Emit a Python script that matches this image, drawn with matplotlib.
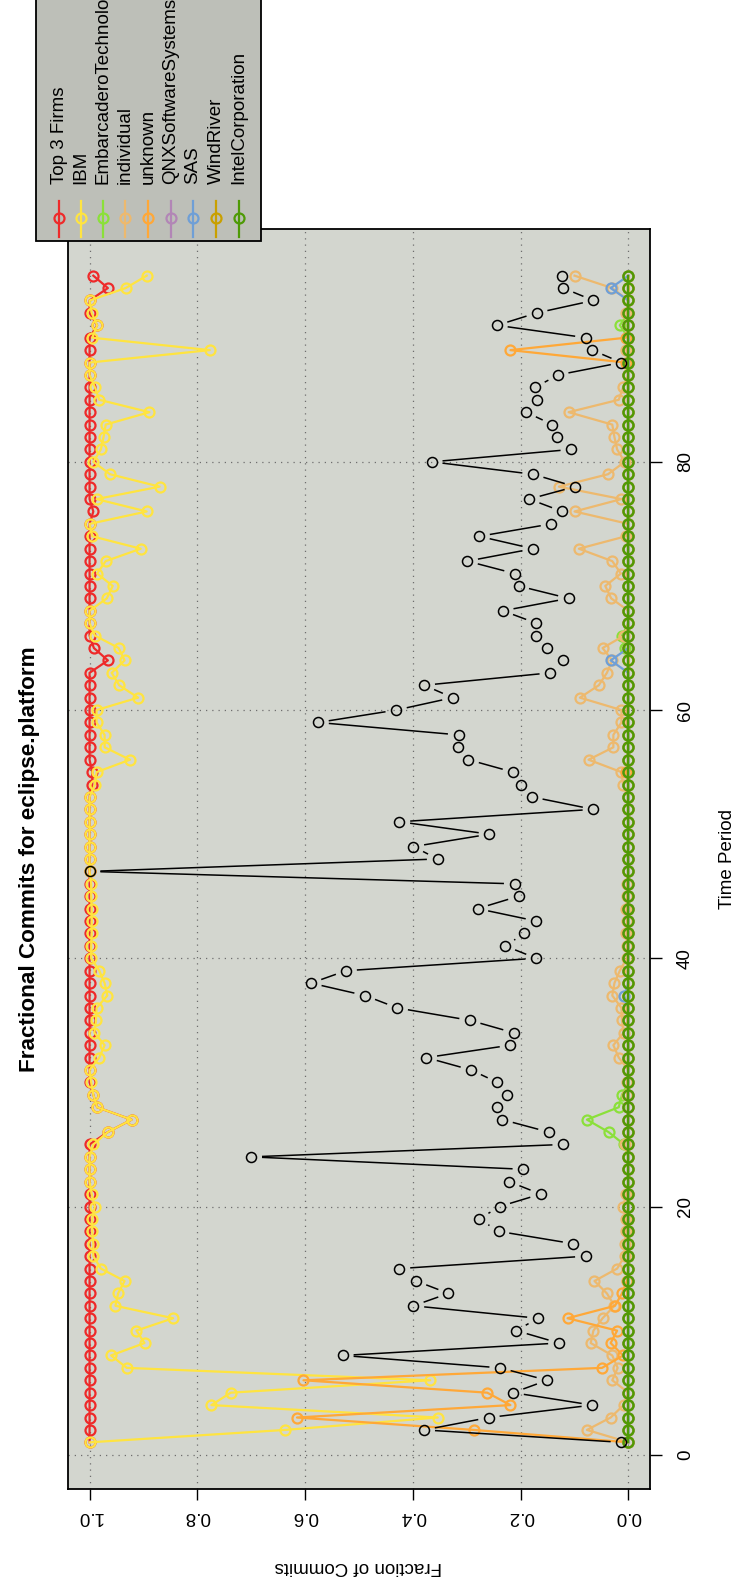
import numpy as np
import matplotlib
matplotlib.use("Agg")
import matplotlib.pyplot as plt
from matplotlib.collections import LineCollection
from matplotlib.lines import Line2D
from matplotlib.patches import Rectangle

plt.rcParams['font.family'] = ['Liberation Sans', 'DejaVu Sans']

# Time periods 1..95
periods = np.arange(1, 96)

top3 = [1.0] * 95
for t, v in {26: 0.966, 27: 0.922, 28: 0.986, 29: 0.993, 54: 0.995, 55: 0.995,
             64: 0.966, 65: 0.992, 76: 0.993, 91: 0.986, 94: 0.966, 95: 0.993}.items():
    top3[t - 1] = v

ibm = [1.0, 0.637, 0.354, 0.774, 0.738, 0.368, 0.931, 0.96, 0.898, 0.913,
       0.845, 0.952, 0.947, 0.935, 0.979, 0.993, 0.993, 0.995, 0.995, 0.99,
       0.996, 1.0, 1.0, 1.0, 0.993, 0.966, 0.922, 0.986, 0.993, 0.997,
       1.0, 0.982, 0.972, 0.991, 0.988, 0.987, 0.967, 0.972, 0.982, 0.997,
       0.997, 0.996, 0.996, 0.996, 0.997, 0.997, 1.0, 1.0, 1.0, 1.0,
       1.0, 1.0, 1.0, 0.99, 0.987, 0.925, 0.972, 0.972, 0.987, 0.987,
       0.91, 0.945, 0.959, 0.935, 0.946, 0.99, 1.0, 1.0, 0.968, 0.957,
       0.986, 0.97, 0.905, 0.995, 1.0, 0.894, 0.987, 0.87, 0.962, 0.993,
       0.979, 0.974, 0.97, 0.889, 0.982, 0.99, 1.0, 1.0, 0.777, 0.995,
       0.986, 0.996, 1.0, 0.933, 0.894]

embarcadero = [0.0] * 95
for t, v in {25: 0.008, 26: 0.037, 27: 0.077, 28: 0.018, 29: 0.012,
             65: 0.006, 66: 0.012, 91: 0.016}.items():
    embarcadero[t - 1] = v

individual = [0.0, 0.077, 0.033, 0.009, 0.0, 0.03, 0.02, 0.03, 0.07, 0.065,
              0.048, 0.026, 0.04, 0.063, 0.021, 0.007, 0.007, 0.005, 0.005, 0.01,
              0.004, 0.0, 0.0, 0.0, 0.007, 0.0, 0.0, 0.0, 0.002, 0.003,
              0.0, 0.018, 0.028, 0.009, 0.012, 0.013, 0.03, 0.026, 0.016, 0.003,
              0.003, 0.004, 0.003, 0.004, 0.003, 0.003, 0.0, 0.0, 0.0, 0.0,
              0.0, 0.0, 0.0, 0.01, 0.013, 0.074, 0.028, 0.028, 0.013, 0.013,
              0.09, 0.055, 0.04, 0.03, 0.048, 0.008, 0.0, 0.0, 0.032, 0.043,
              0.014, 0.03, 0.092, 0.005, 0.0, 0.1, 0.013, 0.129, 0.038, 0.007,
              0.021, 0.026, 0.03, 0.111, 0.018, 0.01, 0.0, 0.0, 0.004, 0.0,
              0.0, 0.004, 0.0, 0.03, 0.1]

unknown = [0.0] * 95
for t, v in {2: 0.287, 3: 0.615, 4: 0.219, 5: 0.262, 6: 0.603, 7: 0.049,
             8: 0.01, 9: 0.033, 10: 0.021, 11: 0.113, 12: 0.025, 13: 0.012,
             14: 0.003, 55: 0.005, 88: 0.005, 89: 0.219, 90: 0.005}.items():
    unknown[t - 1] = v

qnx = [0.0] * 95

sas = [0.0] * 95
for t, v in {37: 0.008, 64: 0.033, 94: 0.033}.items():
    sas[t - 1] = v

windriver = [0.0] * 95
intel = [0.0] * 95

# black series (drawn without legend entry)
other = [0.013, 0.379, 0.259, 0.067, 0.214, 0.151, 0.238, 0.530, 0.129, 0.208,
         0.168, 0.399, 0.334, 0.394, 0.425, 0.079, 0.102, 0.241, 0.277, 0.239,
         0.163, 0.221, 0.195, 0.700, 0.121, 0.148, 0.234, 0.244, 0.226, 0.243,
         0.292, 0.375, 0.219, 0.213, 0.294, 0.429, 0.489, 0.589, 0.524, 0.171,
         0.229, 0.193, 0.171, 0.280, 0.204, 0.211, 1.0, 0.354, 0.399, 0.258,
         0.425, 0.065, 0.179, 0.200, 0.214, 0.297, 0.316, 0.315, 0.576, 0.431,
         0.326, 0.379, 0.145, 0.121, 0.152, 0.172, 0.171, 0.233, 0.111, 0.204,
         0.211, 0.299, 0.177, 0.277, 0.143, 0.123, 0.184, 0.099, 0.177, 0.365,
         0.106, 0.133, 0.141, 0.19, 0.17, 0.173, 0.131, 0.013, 0.067, 0.079,
         0.244, 0.17, 0.065, 0.121, 0.123]

names = ["Top 3 Firms", "IBM", "EmbarcaderoTechnologies", "individual", "unknown",
         "QNXSoftwareSystems", "SAS", "WindRiver", "IntelCorporation"]
series = [top3, ibm, embarcadero, individual, unknown, qnx, sas, windriver, intel]
colors = ["#EE2A2A", "#FFE440", "#8BE03A", "#EDB96E", "#FFA838",
          "#B286B6", "#6F9FD6", "#C9A000", "#4E9A06"]

W, H = 737, 1580
fig = plt.figure(figsize=(W / 100, H / 100), dpi=100)

# the whole chart is drawn turned by 90 degrees
ax = fig.add_axes([68 / W, 1 - 1489 / H, (650 - 68) / W, (1489 - 229) / H])
ax.set_facecolor("#D3D6CF")
ax.set_xlim(1.04, -0.04)
ax.set_ylim(-2.76, 98.76)

for vals, col in zip(series, colors):
    ax.plot(vals, periods, '-', color=col, lw=1.6, marker='o', ms=7.2,
            mfc='none', mec=col, mew=1.6, zorder=3)

# black series with gaps at the points (R type="b")
gap = 10.8
pts = ax.transData.transform(np.column_stack([other, periods]))
inv = ax.transData.inverted()
segs = []
for p0, p1 in zip(pts[:-1], pts[1:]):
    d = p1 - p0
    L = np.hypot(d[0], d[1])
    if L <= 2 * gap:
        continue
    u = d / L
    segs.append(inv.transform(np.array([p0 + u * gap, p1 - u * gap])))
ax.add_collection(LineCollection(segs, colors='black', linewidths=1.1, zorder=4))
ax.plot(other, periods, 'o', ms=7.2, mfc='none', mec='black', mew=1.1, zorder=4)

# grid
gl = dict(color='#6E6E6E', lw=0.9, ls=(0, (1, 4)), zorder=1)
for v in [0, 0.2, 0.4, 0.6, 0.8, 1.0]:
    ax.axvline(v, **gl)
for v in [0, 20, 40, 60, 80]:
    ax.axhline(v, **gl)

ax.set_xticks([0, 0.2, 0.4, 0.6, 0.8, 1.0])
ax.set_xticklabels(["0.0", "0.2", "0.4", "0.6", "0.8", "1.0"], rotation=180,
                   fontsize=13.5)
ax.yaxis.tick_right()
ax.set_yticks([0, 20, 40, 60, 80])
ax.set_yticklabels(["0", "20", "40", "60", "80"], rotation=90, fontsize=13.5,
                   va='center')
ax.tick_params(axis='x', length=8, width=1, pad=6)
ax.tick_params(axis='y', length=8.5, width=1, pad=11)
for s in ax.spines.values():
    s.set_linewidth(1.3)

fig.text(30 / W, 1 - 859 / H, "Fractional Commits for eclipse.platform",
         rotation=90, ha='center', va='center', fontsize=16.2, fontweight='bold')
fig.text(728 / W, 1 - 859 / H, "Time Period", rotation=90,
         ha='center', va='center', fontsize=13.5)
fig.text(358 / W, 1 - 1566 / H, "Fraction of Commits", rotation=180,
         ha='center', va='center', fontsize=13.5)

# legend, drawn by hand because it is turned too
fig.add_artist(Rectangle((36 / W, 1 - 241 / H), (261 - 36) / W, 241 / H + 0.01,
                         transform=fig.transFigure, fc="#BDBFB8", ec='black',
                         lw=1.3, zorder=10))
xs = [59, 81, 103, 125, 148, 171, 193, 216, 239]
for x, name, col in zip(xs, names, colors):
    fig.add_artist(Line2D([x / W, x / W], [1 - 201 / H, 1 - 237 / H],
                          transform=fig.transFigure, color=col, lw=1.6, zorder=11))
    fig.add_artist(Line2D([x / W], [1 - 218 / H], transform=fig.transFigure,
                          marker='o', ms=7.2, mfc='none', mec=col, mew=1.6,
                          zorder=11))
    fig.text(x / W, 1 - 184 / H, name, rotation=90, rotation_mode='anchor',
             ha='left', va='center', fontsize=13.5, zorder=12)

fig.savefig("out.png", dpi=100)
